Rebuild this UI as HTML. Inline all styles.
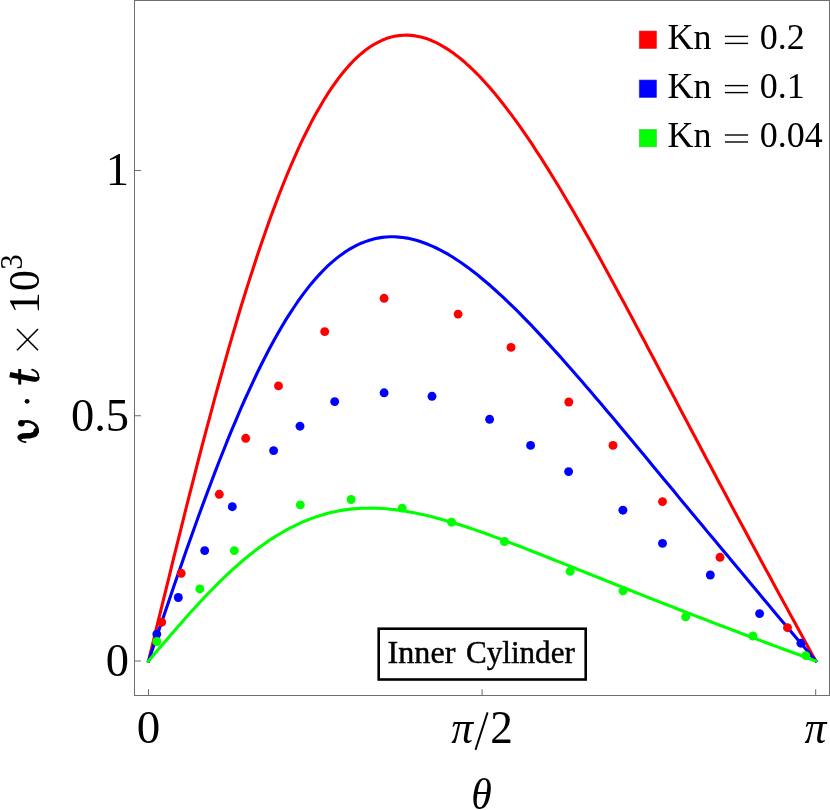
<!DOCTYPE html>
<html><head><meta charset="utf-8"><title>Inner Cylinder</title>
<style>
html,body{margin:0;padding:0;background:#fff;}
body{width:830px;height:810px;overflow:hidden;}
svg{display:block;}
text{font-family:"Liberation Serif",serif;fill:#000;}
svg{will-change:transform;}
</style></head><body>
<svg width="830" height="810" viewBox="0 0 830 810">
<rect x="0" y="0" width="830" height="810" fill="#fff"/>
<!-- frame -->
<g stroke="#6e6e6e" stroke-width="1" fill="none" shape-rendering="crispEdges">
<line x1="134.5" y1="0" x2="134.5" y2="696"/>
<line x1="134" y1="695.5" x2="830" y2="695.5"/>
<line x1="134" y1="0.5" x2="830" y2="0.5"/>
<line x1="829.5" y1="0" x2="829.5" y2="696"/>
</g>
<!-- ticks -->
<g stroke="#6a6a6a" stroke-width="1" fill="none">
<line x1="148.5" y1="689.3" x2="148.5" y2="695"/>
<line x1="482.1" y1="689.3" x2="482.1" y2="695"/>
<line x1="815.7" y1="689.3" x2="815.7" y2="695"/>
<line x1="135" y1="661" x2="140.9" y2="661"/>
<line x1="135" y1="415.75" x2="140.9" y2="415.75"/>
<line x1="135" y1="170.5" x2="140.9" y2="170.5"/>
</g>
<!-- curves -->
<g fill="none" stroke-width="3.1" stroke-linejoin="round" stroke-linecap="square">
<path stroke="#ff0000" d="M148.5,661.0 L152.7,643.9 L156.8,626.7 L161.0,609.6 L165.2,592.6 L169.4,575.6 L173.5,558.7 L177.7,541.8 L181.9,525.1 L186.0,508.5 L190.2,492.0 L194.4,475.7 L198.5,459.5 L202.7,443.5 L206.9,427.7 L211.1,412.1 L215.2,396.7 L219.4,381.5 L223.6,366.6 L227.7,351.9 L231.9,337.4 L236.1,323.2 L240.2,309.3 L244.4,295.7 L248.6,282.4 L252.8,269.4 L256.9,256.7 L261.1,244.3 L265.3,232.2 L269.4,220.5 L273.6,209.1 L277.8,198.0 L282.0,187.3 L286.1,177.0 L290.3,167.0 L294.5,157.4 L298.6,148.1 L302.8,139.2 L307.0,130.7 L311.1,122.6 L315.3,114.8 L319.5,107.4 L323.7,100.3 L327.8,93.7 L332.0,87.4 L336.2,81.5 L340.3,75.9 L344.5,70.8 L348.7,65.9 L352.8,61.5 L357.0,57.4 L361.2,53.7 L365.4,50.3 L369.5,47.3 L373.7,44.6 L377.9,42.3 L382.0,40.3 L386.2,38.6 L390.4,37.3 L394.5,36.3 L398.7,35.6 L402.9,35.2 L407.1,35.1 L411.2,35.4 L415.4,35.9 L419.6,36.7 L423.7,37.8 L427.9,39.1 L432.1,40.8 L436.3,42.7 L440.4,44.8 L444.6,47.3 L448.8,49.9 L452.9,52.8 L457.1,55.9 L461.3,59.3 L465.4,62.8 L469.6,66.6 L473.8,70.6 L478.0,74.8 L482.1,79.1 L486.3,83.7 L490.5,88.4 L494.6,93.3 L498.8,98.4 L503.0,103.7 L507.1,109.1 L511.3,114.6 L515.5,120.3 L519.7,126.1 L523.8,132.1 L528.0,138.2 L532.2,144.4 L536.3,150.8 L540.5,157.2 L544.7,163.8 L548.8,170.4 L553.0,177.2 L557.2,184.0 L561.4,191.0 L565.5,198.0 L569.7,205.1 L573.9,212.3 L578.0,219.5 L582.2,226.8 L586.4,234.2 L590.6,241.6 L594.7,249.1 L598.9,256.6 L603.1,264.2 L607.2,271.8 L611.4,279.5 L615.6,287.2 L619.7,294.9 L623.9,302.6 L628.1,310.4 L632.3,318.2 L636.4,326.1 L640.6,333.9 L644.8,341.8 L648.9,349.7 L653.1,357.6 L657.3,365.4 L661.4,373.4 L665.6,381.3 L669.8,389.2 L674.0,397.1 L678.1,405.0 L682.3,412.9 L686.5,420.8 L690.6,428.7 L694.8,436.6 L699.0,444.5 L703.2,452.4 L707.3,460.2 L711.5,468.1 L715.7,475.9 L719.8,483.8 L724.0,491.6 L728.2,499.4 L732.3,507.2 L736.5,515.0 L740.7,522.8 L744.9,530.5 L749.0,538.3 L753.2,546.0 L757.4,553.7 L761.5,561.5 L765.7,569.2 L769.9,576.8 L774.0,584.5 L778.2,592.2 L782.4,599.9 L786.6,607.5 L790.7,615.2 L794.9,622.8 L799.1,630.5 L803.2,638.1 L807.4,645.7 L811.6,653.4 L815.8,661.0"/>
<path stroke="#0000ff" d="M148.5,661.0 L152.7,648.7 L156.8,636.3 L161.0,624.0 L165.2,611.7 L169.4,599.5 L173.5,587.3 L177.7,575.3 L181.9,563.2 L186.0,551.3 L190.2,539.5 L194.4,527.8 L198.5,516.3 L202.7,504.9 L206.9,493.6 L211.1,482.5 L215.2,471.6 L219.4,460.8 L223.6,450.2 L227.7,439.9 L231.9,429.7 L236.1,419.8 L240.2,410.0 L244.4,400.5 L248.6,391.3 L252.8,382.3 L256.9,373.5 L261.1,365.0 L265.3,356.7 L269.4,348.7 L273.6,341.0 L277.8,333.5 L282.0,326.3 L286.1,319.4 L290.3,312.8 L294.5,306.5 L298.6,300.4 L302.8,294.6 L307.0,289.1 L311.1,283.9 L315.3,279.0 L319.5,274.4 L323.7,270.0 L327.8,265.9 L332.0,262.1 L336.2,258.6 L340.3,255.4 L344.5,252.4 L348.7,249.7 L352.8,247.3 L357.0,245.1 L361.2,243.2 L365.4,241.6 L369.5,240.2 L373.7,239.0 L377.9,238.1 L382.0,237.4 L386.2,237.0 L390.4,236.8 L394.5,236.8 L398.7,237.1 L402.9,237.5 L407.1,238.1 L411.2,239.0 L415.4,240.0 L419.6,241.3 L423.7,242.7 L427.9,244.3 L432.1,246.1 L436.3,248.0 L440.4,250.1 L444.6,252.3 L448.8,254.7 L452.9,257.3 L457.1,260.0 L461.3,262.8 L465.4,265.7 L469.6,268.8 L473.8,272.0 L478.0,275.3 L482.1,278.7 L486.3,282.2 L490.5,285.8 L494.6,289.5 L498.8,293.3 L503.0,297.1 L507.1,301.1 L511.3,305.1 L515.5,309.2 L519.7,313.4 L523.8,317.6 L528.0,321.9 L532.2,326.2 L536.3,330.6 L540.5,335.1 L544.7,339.6 L548.8,344.1 L553.0,348.7 L557.2,353.4 L561.4,358.0 L565.5,362.7 L569.7,367.5 L573.9,372.2 L578.0,377.0 L582.2,381.8 L586.4,386.7 L590.6,391.5 L594.7,396.4 L598.9,401.3 L603.1,406.3 L607.2,411.2 L611.4,416.1 L615.6,421.1 L619.7,426.1 L623.9,431.1 L628.1,436.1 L632.3,441.1 L636.4,446.1 L640.6,451.1 L644.8,456.1 L648.9,461.1 L653.1,466.2 L657.3,471.2 L661.4,476.2 L665.6,481.3 L669.8,486.3 L674.0,491.3 L678.1,496.4 L682.3,501.4 L686.5,506.4 L690.6,511.5 L694.8,516.5 L699.0,521.5 L703.2,526.5 L707.3,531.6 L711.5,536.6 L715.7,541.6 L719.8,546.6 L724.0,551.6 L728.2,556.6 L732.3,561.6 L736.5,566.6 L740.7,571.6 L744.9,576.6 L749.0,581.6 L753.2,586.6 L757.4,591.6 L761.5,596.5 L765.7,601.5 L769.9,606.5 L774.0,611.4 L778.2,616.4 L782.4,621.4 L786.6,626.3 L790.7,631.3 L794.9,636.2 L799.1,641.2 L803.2,646.1 L807.4,651.1 L811.6,656.0 L815.8,661.0"/>
<path stroke="#00ff00" d="M148.5,661.0 L152.7,656.1 L156.8,651.2 L161.0,646.3 L165.2,641.4 L169.4,636.5 L173.5,631.7 L177.7,626.9 L181.9,622.2 L186.0,617.5 L190.2,612.8 L194.4,608.2 L198.5,603.7 L202.7,599.2 L206.9,594.8 L211.1,590.5 L215.2,586.3 L219.4,582.1 L223.6,578.0 L227.7,574.1 L231.9,570.2 L236.1,566.5 L240.2,562.8 L244.4,559.2 L248.6,555.8 L252.8,552.5 L256.9,549.2 L261.1,546.2 L265.3,543.2 L269.4,540.3 L273.6,537.6 L277.8,535.0 L282.0,532.5 L286.1,530.1 L290.3,527.9 L294.5,525.8 L298.6,523.8 L302.8,521.9 L307.0,520.2 L311.1,518.6 L315.3,517.1 L319.5,515.7 L323.7,514.5 L327.8,513.3 L332.0,512.3 L336.2,511.4 L340.3,510.6 L344.5,509.9 L348.7,509.4 L352.8,508.9 L357.0,508.6 L361.2,508.3 L365.4,508.2 L369.5,508.1 L373.7,508.1 L377.9,508.3 L382.0,508.5 L386.2,508.8 L390.4,509.2 L394.5,509.6 L398.7,510.2 L402.9,510.8 L407.1,511.4 L411.2,512.2 L415.4,513.0 L419.6,513.9 L423.7,514.8 L427.9,515.8 L432.1,516.8 L436.3,517.9 L440.4,519.0 L444.6,520.2 L448.8,521.4 L452.9,522.7 L457.1,524.0 L461.3,525.3 L465.4,526.6 L469.6,528.0 L473.8,529.4 L478.0,530.9 L482.1,532.3 L486.3,533.8 L490.5,535.3 L494.6,536.9 L498.8,538.4 L503.0,540.0 L507.1,541.5 L511.3,543.1 L515.5,544.7 L519.7,546.3 L523.8,547.9 L528.0,549.6 L532.2,551.2 L536.3,552.8 L540.5,554.5 L544.7,556.1 L548.8,557.8 L553.0,559.5 L557.2,561.1 L561.4,562.8 L565.5,564.4 L569.7,566.1 L573.9,567.8 L578.0,569.5 L582.2,571.1 L586.4,572.8 L590.6,574.5 L594.7,576.1 L598.9,577.8 L603.1,579.5 L607.2,581.1 L611.4,582.8 L615.6,584.5 L619.7,586.1 L623.9,587.8 L628.1,589.5 L632.3,591.1 L636.4,592.8 L640.6,594.4 L644.8,596.1 L648.9,597.7 L653.1,599.4 L657.3,601.0 L661.4,602.6 L665.6,604.3 L669.8,605.9 L674.0,607.5 L678.1,609.2 L682.3,610.8 L686.5,612.4 L690.6,614.0 L694.8,615.6 L699.0,617.2 L703.2,618.8 L707.3,620.4 L711.5,622.0 L715.7,623.6 L719.8,625.2 L724.0,626.8 L728.2,628.4 L732.3,630.0 L736.5,631.5 L740.7,633.1 L744.9,634.7 L749.0,636.3 L753.2,637.8 L757.4,639.4 L761.5,640.9 L765.7,642.5 L769.9,644.0 L774.0,645.6 L778.2,647.1 L782.4,648.7 L786.6,650.2 L790.7,651.8 L794.9,653.3 L799.1,654.8 L803.2,656.4 L807.4,657.9 L811.6,659.5 L815.8,661.0"/>
</g>
<!-- dots -->
<circle cx="161.7" cy="622.2" r="4.45" fill="#ff0000"/><circle cx="181.2" cy="573.3" r="4.45" fill="#ff0000"/><circle cx="219.3" cy="494.3" r="4.45" fill="#ff0000"/><circle cx="245.7" cy="438.3" r="4.45" fill="#ff0000"/><circle cx="278.5" cy="385.9" r="4.45" fill="#ff0000"/><circle cx="324.7" cy="331.6" r="4.45" fill="#ff0000"/><circle cx="384.1" cy="298.3" r="4.45" fill="#ff0000"/><circle cx="458.1" cy="314.1" r="4.45" fill="#ff0000"/><circle cx="511.0" cy="347.4" r="4.45" fill="#ff0000"/><circle cx="568.8" cy="402.0" r="4.45" fill="#ff0000"/><circle cx="613.0" cy="445.4" r="4.45" fill="#ff0000"/><circle cx="662.5" cy="501.6" r="4.45" fill="#ff0000"/><circle cx="720.0" cy="557.3" r="4.45" fill="#ff0000"/><circle cx="787.5" cy="627.7" r="4.45" fill="#ff0000"/>
<circle cx="156.8" cy="634.1" r="4.45" fill="#0000ff"/><circle cx="178.3" cy="597.5" r="4.45" fill="#0000ff"/><circle cx="204.7" cy="550.6" r="4.45" fill="#0000ff"/><circle cx="232.3" cy="506.7" r="4.45" fill="#0000ff"/><circle cx="273.6" cy="450.6" r="4.45" fill="#0000ff"/><circle cx="300.0" cy="426.2" r="4.45" fill="#0000ff"/><circle cx="334.7" cy="401.6" r="4.45" fill="#0000ff"/><circle cx="384.1" cy="392.8" r="4.45" fill="#0000ff"/><circle cx="432.0" cy="396.3" r="4.45" fill="#0000ff"/><circle cx="489.6" cy="419.3" r="4.45" fill="#0000ff"/><circle cx="530.6" cy="445.4" r="4.45" fill="#0000ff"/><circle cx="568.6" cy="471.6" r="4.45" fill="#0000ff"/><circle cx="622.9" cy="510.2" r="4.45" fill="#0000ff"/><circle cx="662.5" cy="543.4" r="4.45" fill="#0000ff"/><circle cx="710.3" cy="575.0" r="4.45" fill="#0000ff"/><circle cx="759.6" cy="613.6" r="4.45" fill="#0000ff"/><circle cx="800.9" cy="643.2" r="4.45" fill="#0000ff"/>
<circle cx="156.8" cy="641.5" r="4.45" fill="#00ff00"/><circle cx="199.8" cy="588.9" r="4.45" fill="#00ff00"/><circle cx="234.3" cy="550.6" r="4.45" fill="#00ff00"/><circle cx="300.3" cy="504.9" r="4.45" fill="#00ff00"/><circle cx="351.1" cy="499.5" r="4.45" fill="#00ff00"/><circle cx="402.2" cy="508.1" r="4.45" fill="#00ff00"/><circle cx="451.6" cy="522.2" r="4.45" fill="#00ff00"/><circle cx="504.4" cy="541.5" r="4.45" fill="#00ff00"/><circle cx="570.2" cy="571.3" r="4.45" fill="#00ff00"/><circle cx="623.0" cy="590.8" r="4.45" fill="#00ff00"/><circle cx="685.6" cy="616.8" r="4.45" fill="#00ff00"/><circle cx="753.0" cy="636.0" r="4.45" fill="#00ff00"/><circle cx="805.8" cy="655.6" r="4.45" fill="#00ff00"/>
<!-- label box -->
<rect x="378.7" y="628.7" width="207" height="50.8" fill="#fff" stroke="#000" stroke-width="2.6"/>
<g font-size="31.5" stroke="#000" stroke-width="0.45"><text x="387.6" y="663" textLength="67.8" lengthAdjust="spacingAndGlyphs">Inner</text><text x="466" y="663" textLength="108.8" lengthAdjust="spacingAndGlyphs">Cylinder</text></g>
<!-- legend -->
<g stroke-width="0.6">
<rect x="639.2" y="31" width="17.4" height="17.6" fill="#ff0000" stroke="#d04040"/>
<rect x="639.2" y="80" width="17.4" height="17.6" fill="#0000ff" stroke="#4040d0"/>
<rect x="639.2" y="129.3" width="17.4" height="17.6" fill="#00ff00" stroke="#60c060"/>
</g>
<g font-size="36">
<text x="667.6" y="48.7">Kn</text><text x="759.8" y="48.7">0.2</text>
<text x="667.6" y="97.8">Kn</text><text x="759.8" y="97.8">0.1</text>
<text x="667.6" y="147.1">Kn</text><text x="759.8" y="147.1">0.04</text>
</g>
<g stroke="#000" stroke-width="1.4">
<line x1="724.9" y1="36.4" x2="748.1" y2="36.4"/><line x1="724.9" y1="43.4" x2="748.1" y2="43.4"/>
<line x1="724.9" y1="85.6" x2="748.1" y2="85.6"/><line x1="724.9" y1="92.6" x2="748.1" y2="92.6"/>
<line x1="724.9" y1="135.0" x2="748.1" y2="135.0"/><line x1="724.9" y1="142.0" x2="748.1" y2="142.0"/>
</g>
<!-- y tick labels -->
<g font-size="46.5" text-anchor="end">
<text x="129" y="676">0</text>
<text x="129" y="430.5">0.5</text>
<text x="129" y="185">1</text>
</g>
<!-- x tick labels -->
<g font-size="47">
<text x="148.5" y="742.6" text-anchor="middle">0</text>
<text x="451.2" y="742.6" font-style="italic" textLength="21.8" lengthAdjust="spacingAndGlyphs">π</text>
<text x="490.2" y="742.6" textLength="22.6" lengthAdjust="spacingAndGlyphs">2</text>
<text x="804.5" y="742.6" font-style="italic" textLength="21.8" lengthAdjust="spacingAndGlyphs">π</text>
<text x="471.2" y="809" font-style="italic" font-size="44.5" textLength="20.55" lengthAdjust="spacingAndGlyphs">θ</text>
</g>
<line x1="487.6" y1="712.4" x2="475.5" y2="749.9" stroke="#000" stroke-width="1.9"/>
<!-- y axis label -->
<g transform="translate(38.6,443) rotate(-90)">
<!-- v -->
<g fill="none" stroke="#000" stroke-linecap="round" stroke-linejoin="round">
<path d="M0.9,-13 C1.6,-17.5 3.4,-19.8 5.6,-19.8" stroke-width="1.7"/>
<path d="M5.8,-18.4 C7.6,-17.3 7.0,-12 7.6,-7.5 C8.2,-3.8 9.6,-2.3 12.2,-2.3" stroke-width="5.5"/>
<path d="M11.5,-0.9 C16,-0.9 19.6,-3.6 21,-8 C21.8,-10.5 21.8,-13 21.2,-15.5" stroke-width="2.8"/>
</g>
<circle cx="19.8" cy="-17.2" r="3.3" fill="#000"/>
<!-- dot -->
<circle cx="41.7" cy="-11.5" r="2.4" fill="#000"/>
<!-- t -->
<g fill="none" stroke="#000" stroke-linecap="butt" stroke-linejoin="round">
<path d="M68.4,-28.8 L64,-6 C63.4,-2.8 64.2,-1.4 66,-1.4" stroke-width="5.2"/>
<path d="M66,-0.2 C69.5,-0.2 72.3,-3 73.3,-6.5" stroke-width="1.8" stroke-linecap="round"/>
<line x1="58.4" y1="-18.9" x2="74" y2="-18.9" stroke-width="3"/>
</g>
<g stroke="#000" stroke-width="1.6"><line x1="92.8" y1="-21.6" x2="114" y2="-0.6"/><line x1="92.8" y1="-0.6" x2="114" y2="-21.6"/></g>
<text x="129" y="0" font-size="44">1</text><text x="151.9" y="0" font-size="44" textLength="20.8" lengthAdjust="spacingAndGlyphs">0</text>
<text x="173.3" y="-17" font-size="31">3</text>
</g>
</svg>
</body></html>
